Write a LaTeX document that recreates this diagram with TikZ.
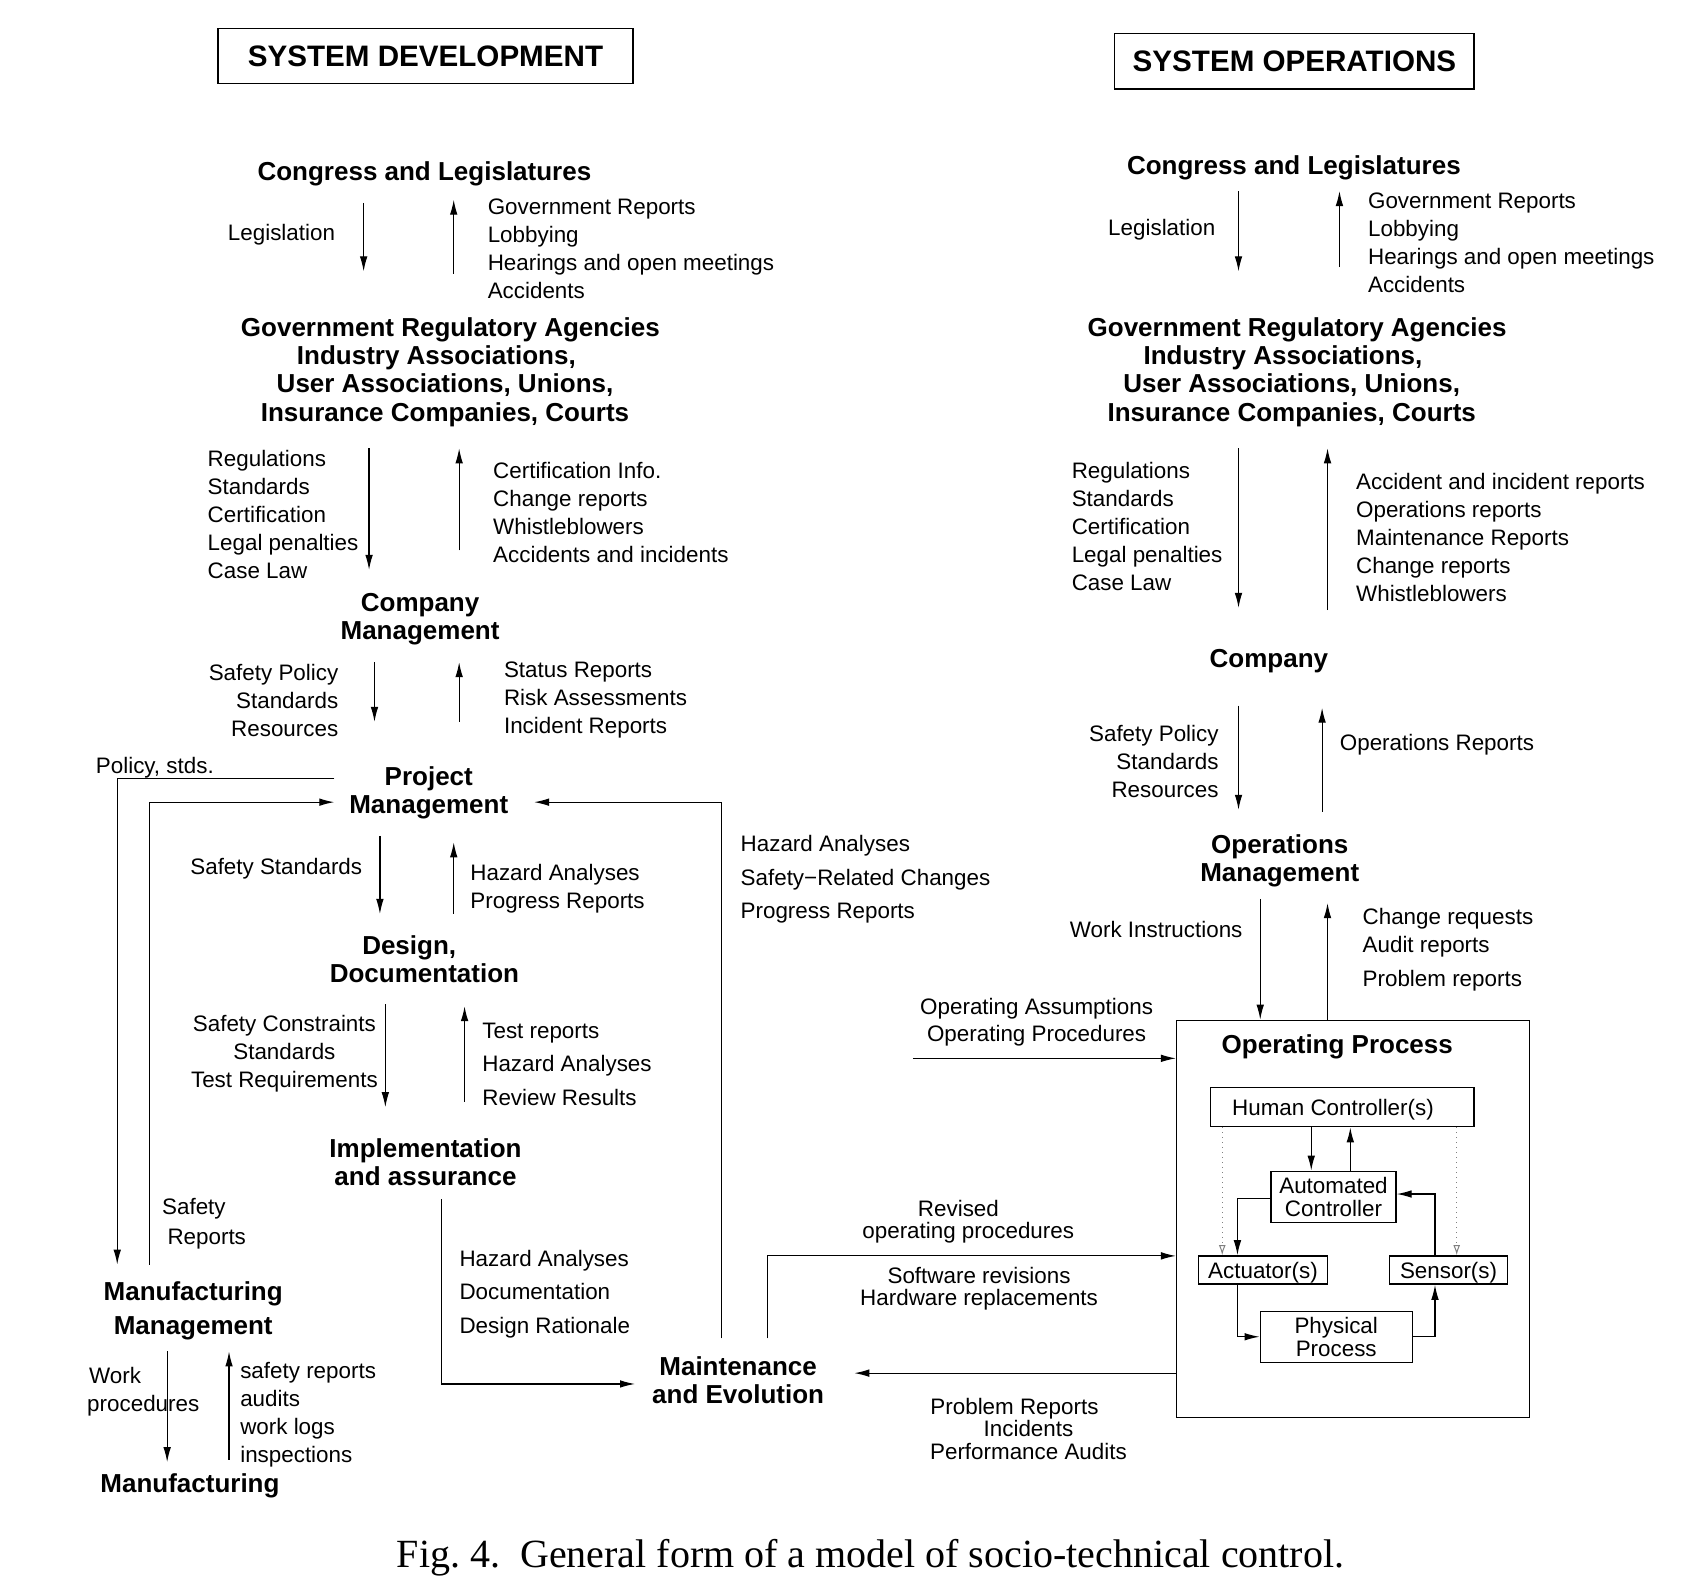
\documentclass[tikz,border=0pt]{standalone}
\usepackage{fontspec}
\setmainfont{Liberation Sans}
\newfontfamily\capfont{Liberation Serif}
\usetikzlibrary{arrows.meta}
\def\U{0.5428pt}
\newcommand\varrow[4]{\coordinate (#1s) at (#2,#3); \coordinate (#1e) at (#2,#4); \draw[arr] (#1s) -- (#1e);}
\begin{document}
\begin{tikzpicture}[x=0.5428pt,y=-0.5428pt,
  lab/.style={font=\fontsize{11.2}{14}\selectfont, inner sep=0pt, align=left, yshift=-0.7pt},
  labw/.style={lab, anchor=west},
  labe/.style={lab, anchor=east, align=right},
  labc/.style={lab, align=center},
  wide/.style={font=\fontsize{11.2}{16.8}\selectfont},
  head/.style={font=\fontsize{13}{14.1}\selectfont\bfseries, inner sep=0pt, align=center, yshift=-1.5pt},
  ttl/.style={draw, line width=0.7pt, font=\fontsize{14.8}{16}\selectfont\bfseries, inner sep=0pt},
  arr/.style={-{Latex[length=7.5pt,width=3.8pt]}, line width=0.6pt},
  pbox/.style={draw, line width=0.7pt, inner sep=0pt, align=center, font=\fontsize{11.2}{11.4}\selectfont},
  dot/.style={dotted, gray, -{Latex[open,length=5pt,width=3.4pt]}, line width=0.5pt},
]
\fill[white] (0,0) rectangle (1568,1461);
\useasboundingbox (0,0) rectangle (1568,1461);

% ================= LEFT: SYSTEM DEVELOPMENT =================
\node[ttl, minimum width=382*\U, minimum height=51*\U] (sysdev) at (392,51.5) {SYSTEM DEVELOPMENT};
\node[head] (congL) at (391,157) {Congress and Legislatures};
\node[labe] (legL) at (309,215) {Legislation};
\varrow{a1}{335}{187}{250}
\varrow{a2}{418}{252}{184}
\node[labw] (grL) at (449,227.5) {Government Reports\\Lobbying\\Hearings and open meetings\\Accidents};
\node[head] (govL) at (410,340) {\hspace*{5.4pt}Government Regulatory Agencies\\\hspace*{-8.7pt}Industry Associations,\\User Associations, Unions,\\Insurance Companies, Courts};
\node[labw] (regL) at (191,473) {Regulations\\Standards\\Certification\\Legal penalties\\Case Law};
\varrow{a3}{340}{413}{525}
\varrow{a4}{423}{507}{413}
\node[labw] (certL) at (454,471) {Certification Info.\\Change reports\\Whistleblowers\\Accidents and incidents};
\node[head] (compL) at (387,568) {Company\\Management};
\node[labe] (spL) at (312,644) {Safety Policy\\Standards\\Resources};
\varrow{a5}{345}{610}{665}
\varrow{a6}{423}{665}{610}
\node[labw] (srL) at (464,644) {Status Reports\\Risk Assessments\\Incident Reports};
\node[labw] (pol) at (88,706) {Policy, stds.};
\node[head] (proj) at (395,728) {Project\\Management};
\coordinate (p1) at (308,717); \coordinate (p2) at (108,1165);
\draw[arr] (p1) -| (p2);
\coordinate (s1) at (138,1165); \coordinate (s2) at (308,739);
\draw[arr] (s1) |- (s2);
\coordinate (h1) at (665,1233); \coordinate (h2) at (492,739);
\draw[arr] (h1) |- (h2);
\node[labw, wide] (haR) at (682,809) {Hazard Analyses\\Safety−Related Changes\\Progress Reports};
\node[labw] (ssL) at (175,799) {Safety Standards};
\varrow{a7}{350}{770}{842}
\varrow{a8}{418}{842}{776}
\node[labw] (hpL) at (433,817) {Hazard Analyses\\Progress Reports};
\node[head] (des) at (391,881) {Design,\hspace*{15.2pt}\\Documentation};
\node[labc] (scL) at (262,969) {Safety Constraints\\Standards\\Test Requirements};
\varrow{a9}{355}{925}{1020}
\varrow{a10}{428}{1015}{927}
\node[labw, wide] (trL) at (444,979) {Test reports\\Hazard Analyses\\Review Results};
\node[head] (impl) at (392,1068) {Implementation\\and assurance};
\coordinate (i1) at (407,1105); \coordinate (i2) at (585,1275);
\draw[arr] (i1) |- (i2);
\node[labw, wide] (hdL) at (423,1191) {Hazard Analyses\\Documentation\\Design Rationale};
\node[labw, font=\fontsize{11.2}{14.6}\selectfont] (sfr) at (149,1126) {Safety\\\hspace*{2.7pt}Reports};
\node[head, font=\fontsize{13}{16.8}\selectfont\bfseries] (mm) at (178,1205) {Manufacturing\\Management};
\node[labw] (wp) at (80,1281) {\hspace*{1pt}Work\\procedures};
\varrow{a11}{154}{1245}{1347}
\varrow{a12}{211}{1345}{1245}
\node[labw] (sra) at (221,1302) {safety reports\\audits\\work logs\\inspections};
\node[head] (manu) at (175,1366) {Manufacturing};
\node[head] (maint) at (680,1269) {Maintenance\\and Evolution};

% ================= RIGHT: SYSTEM OPERATIONS =================
\node[ttl, minimum width=331*\U, minimum height=51*\U] (sysop) at (1192.5,56.5) {SYSTEM OPERATIONS};
\node[head] (congR) at (1192,152) {Congress and Legislatures};
\node[labe] (legR) at (1120,210) {Legislation};
\varrow{b1}{1141}{176}{250}
\varrow{b2}{1234}{246}{176}
\node[labw] (grR) at (1260,222.5) {Government Reports\\Lobbying\\Hearings and open meetings\\Accidents};
\node[head] (govR) at (1190,340) {\hspace*{5.4pt}Government Regulatory Agencies\\\hspace*{-8.7pt}Industry Associations,\\User Associations, Unions,\\Insurance Companies, Courts};
\node[labw] (regR) at (987,483.5) {Regulations\\Standards\\Certification\\Legal penalties\\Case Law};
\varrow{b3}{1141}{413}{560}
\varrow{b4}{1223}{562}{413}
\node[labw] (accR) at (1249,493.5) {Accident and incident reports\\Operations reports\\Maintenance Reports\\Change reports\\Whistleblowers};
\node[head] (compR) at (1169,606) {Company};
\node[labe] (spR) at (1123,700) {Safety Policy\\Standards\\Resources};
\varrow{b5}{1141}{650}{746}
\varrow{b6}{1218}{748}{652}
\node[labw] (oprR) at (1234,685) {Operations Reports};
\node[head] (opm) at (1179,790) {Operations\\Management};
\node[labe] (wi) at (1145,855) {Work Instructions};
\node[labw] (crR) at (1255,873.5) {Change requests\\Audit reports\\[2.7pt]Problem reports};
\node[labc, font=\fontsize{11.2}{13.6}\selectfont] (oaR) at (955,940.5) {Operating Assumptions\\Operating Procedures};

\node[draw, line width=0.7pt, minimum width=325*\U, minimum height=366*\U, inner sep=0pt] (op) at (1246.5,1123) {};
\node[head] (opt) at (1232,962) {Operating Process};

\coordinate (w1) at (1161,828);
\draw[arr] (w1) -- (w1 |- op.north);
\coordinate (w2) at (1223,832);
\draw[arr] (w2 |- op.north) -- (w2);
\coordinate (oa1) at (841,975);
\draw[arr] (oa1) -- (oa1 -| op.west);
\coordinate (m1) at (707,1233); \coordinate (m2) at (707,1157);
\draw[arr] (m1) -- (m2) -- (m2 -| op.west);
\coordinate (pr1) at (787,1265);
\draw[arr] (pr1 -| op.west) -- (pr1);

\node[labc, font=\fontsize{11.2}{10.9}\selectfont] (rev) at (892,1124) {Revised\hspace*{9.8pt}\\operating procedures};
\node[labc, font=\fontsize{11.2}{11.4}\selectfont] (sw) at (902,1186) {Software revisions\\Hardware replacements};
\node[labc, font=\fontsize{11.2}{11.1}\selectfont] (prb) at (947.5,1315) {Problem Reports\hspace*{14pt}\\Incidents\hspace*{9.2pt}\\Performance Audits};

% inner control loop
\node[pbox, text depth=0pt, minimum width=243*\U, minimum height=36*\U] (hc) at (1236.5,1020) {Human Controller(s)\hspace*{9.2pt}};
\node[pbox, minimum width=115*\U, minimum height=47*\U] (ac) at (1228.5,1102.5) {Automated\\Controller};
\node[pbox, text depth=0pt, minimum width=119*\U, minimum height=26*\U] (act) at (1163.5,1170) {Actuator(s)};
\node[pbox, text depth=0pt, minimum width=109*\U, minimum height=26*\U] (sen) at (1334.5,1170) {Sensor(s)};
\node[pbox, minimum width=140*\U, minimum height=47*\U] (phys) at (1231,1231.5) {Physical\\Process};

\draw[arr] (hc.south -| 1208,0) -- (ac.north -| 1208,0);
\draw[arr] (ac.north -| 1244,0) -- (hc.south -| 1244,0);
\draw[dot] (hc.south -| 1126,0) -- (act.north -| 1126,0);
\draw[dot] (hc.south -| 1342,0) -- (sen.north -| 1342,0);
\draw[arr] (ac.west |- 0,1104) -| (act.north -| 1140,0);
\draw[arr] (sen.north -| 1322,0) |- (ac.east |- 0,1100);
\draw[arr] (act.south -| 1140,0) |- (phys.west);
\draw[arr] (phys.east) -| (sen.south -| 1322,0);

% caption
\node[font=\capfont\fontsize{20}{21}\selectfont, inner sep=0pt] (cap) at (802,1435) {Fig.~4.\enskip General form of a model of socio-technical control.};
\end{tikzpicture}
\end{document}
